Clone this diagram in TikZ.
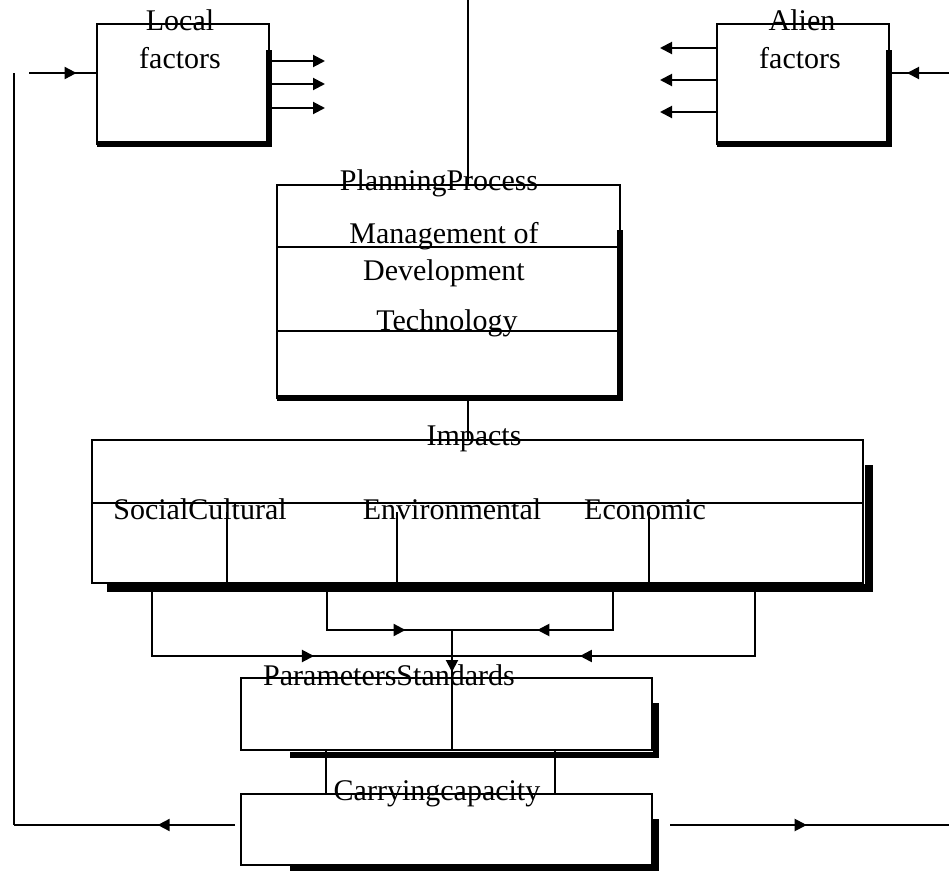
\documentclass[tikz,border=0pt]{standalone}
\usepackage{fontspec}
\setmainfont{Liberation Serif}
\usetikzlibrary{arrows.meta,decorations.markings}
\tikzset{
  box/.style={draw,line width=1pt,inner sep=0pt,outer sep=0pt},
  lbl/.style={inner sep=0pt,anchor=base,font=\fontsize{15}{19}\selectfont},
  heavy/.style={line width=3pt},
  arr/.style={-{Triangle[length=6pt,width=6pt]}},
  midarrow/.style={postaction={decorate},decoration={markings,
    mark=at position #1 with {\arrow{Triangle[length=6pt,width=6pt]}}}}
}
\begin{document}
\begin{tikzpicture}[x=0.5pt,y=-0.5pt,line width=1pt]
\useasboundingbox (0,0) rectangle (949,873);
% boxes
\node [box,minimum width=86pt,minimum height=60pt] (local) at (183,84) {};
\node [box,minimum width=86pt,minimum height=60pt] (alien) at (803,84) {};
\node [box,minimum width=171.5pt,minimum height=106.5pt] (plan) at (448.5,291.5) {};
\node [box,minimum width=385.5pt,minimum height=71.5pt] (impacts) at (477.5,511.5) {};
\node [box,minimum width=205.5pt,minimum height=36pt] (params) at (446.5,714) {};
\node [box,minimum width=205.5pt,minimum height=35.5pt] (carry) at (446.5,829.5) {};
% heavy edges
\draw[heavy] ([yshift=-13pt]local.north east) -- (local.south east) -- (local.south west);
\draw[heavy] ([yshift=-13pt]alien.north east) -- (alien.south east) -- (alien.south west);
\draw[heavy] ([yshift=-22.5pt]plan.north east) -- (plan.south east) -- (plan.south west);
\draw[heavy,line width=4pt] ([xshift=3pt,yshift=-12.5pt]impacts.north east) -- ([xshift=3pt,yshift=-2.5pt]impacts.south east) -- ([xshift=7.5pt,yshift=-2.5pt]impacts.south west);
\draw[heavy] ([xshift=2pt,yshift=-12.5pt]params.north east) -- ([xshift=2pt,yshift=-2.5pt]params.south east) -- ([xshift=24.5pt,yshift=-2.5pt]params.south west);
\draw[heavy] ([xshift=2pt,yshift=-12.5pt]carry.north east) -- ([xshift=2pt,yshift=-1.5pt]carry.south east) -- ([xshift=24.5pt,yshift=-1.5pt]carry.south west);
% inner lines
\draw ([yshift=-31pt]plan.north west) -- ([yshift=-31pt]plan.north east);
\draw ([yshift=-73pt]plan.north west) -- ([yshift=-73pt]plan.north east);
\draw ([yshift=-31.5pt]impacts.north west) -- ([yshift=-31.5pt]impacts.north east);
\foreach \dx in {-125.25,-40.25,85.75}
  \draw ([xshift=\dx pt]impacts.south) -- ++(0,-71);
% factor arrows
\foreach \dy in {11.5,0,-12}
  \draw[arr] ([yshift=\dy pt]local.east) -- ++(56,0);
\foreach \dy in {18,2,-14}
  \draw[arr] ([yshift=\dy pt]alien.west) -- ++(-57,0);
\draw[midarrow=0.7] ([yshift=5.5pt]local.west) ++(-68,0) -- ([yshift=5.5pt]local.west);
\draw[midarrow=0.7] ([yshift=5.5pt]alien.east) ++(60,0) -- ([yshift=5.5pt]alien.east);
% main chain
\coordinate (topin) at (468,0);
\draw (topin) -- (topin |- plan.north);
\draw (topin |- plan.south) -- (topin |- impacts.north);
\coordinate (mrg) at (452,630);
\coordinate (mrg2) at (452,656);
\draw[midarrow=0.73] ([xshift=-75.25pt]impacts.south) -- ++(0,47) -- (mrg);
\draw[midarrow=0.59] ([xshift=67.75pt]impacts.south) -- ++(0,47) -- (mrg);
\draw[midarrow=0.63] ([xshift=-162.75pt]impacts.south) -- ++(0,73) -- (mrg2);
\draw[midarrow=0.66] ([xshift=138.75pt]impacts.south) -- ++(0,73) -- (mrg2);
\draw[midarrow=0.35] (mrg) -- (mrg |- params.south);
\draw ([xshift=-60.25pt]params.south) -- ([xshift=-60.25pt]carry.north);
\draw ([xshift=54.25pt]params.south) -- ([xshift=54.25pt]carry.north);
% feedback
\coordinate (fbl) at (14,825);
\coordinate (fbtop) at (14,73);
\coordinate (fbr) at (949,825);
\draw[midarrow=0.35] ([xshift=-3pt,yshift=2.25pt]carry.west) -- (fbl);
\draw (fbl) -- (fbtop);
\draw[midarrow=0.49] ([xshift=9pt,yshift=2.25pt]carry.east) -- (fbr);
% texts
\node [lbl] (tlocal) at (180,30) {Local};
\node [lbl] (tlocalf) at (180,68) {factors};
\node [lbl] (talien) at (802,30) {Alien};
\node [lbl] (talienf) at (800,68) {factors};
\node [lbl] (tplan) at (439,190) {PlanningProcess};
\node [lbl] (tmgmt) at (444,243) {Management of};
\node [lbl] (tdev) at (444,280) {Development};
\node [lbl] (ttech) at (447,330) {Technology};
\node [lbl] (timp) at (474,445) {Impacts};
\node [lbl] (tsoc) at (200,519) {SocialCultural};
\node [lbl] (tenv) at (452,519) {Environmental};
\node [lbl] (teco) at (645,519) {Economic};
\node [lbl] (tpar) at (389,685) {ParametersStandards};
\node [lbl] (tcar) at (437,800) {Carryingcapacity};
\end{tikzpicture}
\end{document}
